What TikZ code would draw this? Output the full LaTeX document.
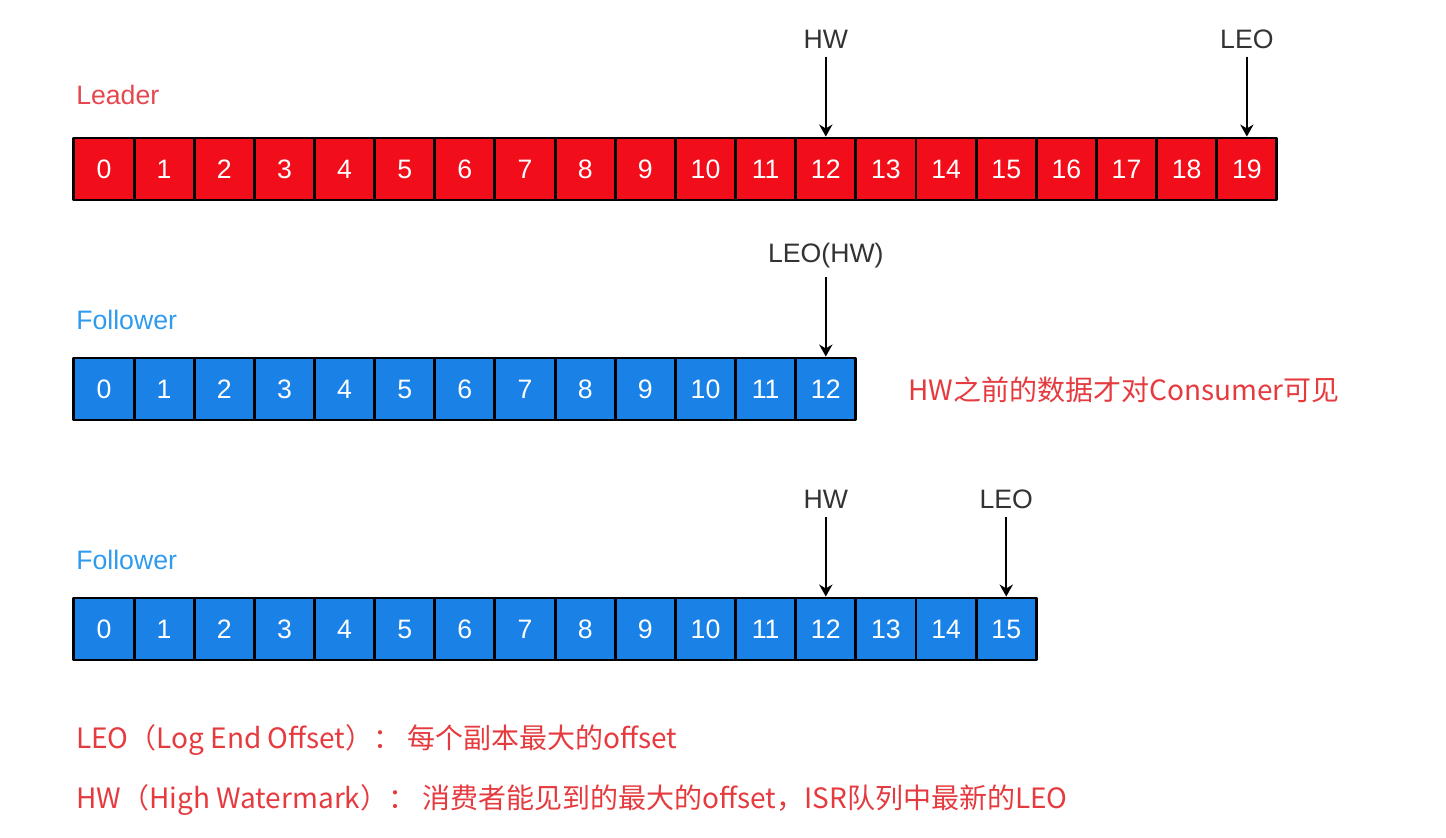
\documentclass[tikz,border=0pt]{standalone}
\usepackage{fontspec}
\setmainfont{Liberation Sans}
\newfontfamily\cjk{Noto Sans CJK SC}
\usetikzlibrary{arrows.meta,positioning}
\definecolor{ldred}{HTML}{F20D1B}
\definecolor{fblue}{HTML}{1A82E6}
\definecolor{ldtext}{HTML}{E5474E}
\definecolor{ftext}{HTML}{2F9BEF}
\definecolor{note}{HTML}{E53B3F}
\definecolor{tagc}{HTML}{333333}
\tikzset{
  every picture/.style={font=\fontsize{20}{24}\selectfont, line join=round, >=Stealth},
  cell/.style={draw=black, line width=2.2pt, minimum width=45.15pt, minimum height=46.5pt, inner sep=0pt, text=white},
  redcell/.style={cell, fill=ldred},
  bluecell/.style={cell, fill=fblue},
  tag/.style={text=tagc, inner sep=6pt},
  title/.style={anchor=west, inner sep=0pt},
  notetext/.style={anchor=west, inner sep=0pt, text=note, font=\cjk\fontsize{21}{25}\selectfont},
  pointer/.style={->, line width=1.2pt, >={Stealth[length=9pt,width=10pt]}},
}

\begin{document}
\begin{tikzpicture}[x=0.75pt,y=-0.75pt]
\useasboundingbox (0,0) rectangle (1446,838);
% leader
\node[title, text=ldtext] (leader) at (76,95) {Leader};
\foreach \i in {0,...,19}{\node[redcell] (ld\i) at ({104+60.15*\i},169) {\i};}
\node[tag, above=60pt of ld12] (ldhw) {HW};
\node[tag, above=60pt of ld19] (ldleo) {LEO};
\draw[pointer] (ldhw) -- (ld12);
\draw[pointer] (ldleo) -- (ld19);
% first follower
\node[title, text=ftext] (fola) at (76,320) {Follower};
\foreach \i in {0,...,12}{\node[bluecell] (fa\i) at ({104+60.15*\i},389) {\i};}
\node[tag, above=60pt of fa12] (faleo) {LEO(HW)};
\draw[pointer] (faleo) -- (fa12);
\node[notetext] (seen) at (908,390) {HW之前的数据才对Consumer可见};
% second follower
\node[title, text=ftext] (folb) at (76,560) {Follower};
\foreach \i in {0,...,15}{\node[bluecell] (fb\i) at ({104+60.15*\i},629) {\i};}
\node[tag, above=60pt of fb12] (fbhw) {HW};
\node[tag, above=60pt of fb15] (fbleo) {LEO};
\draw[pointer] (fbhw) -- (fb12);
\draw[pointer] (fbleo) -- (fb15);
% notes
\node[notetext] (leonote) at (76,740) {LEO（Log End Offset）： 每个副本最大的offset};
\node[notetext] (hwnote) at (76,800) {HW（High Watermark）： 消费者能见到的最大的offset，ISR队列中最新的LEO};
\end{tikzpicture}
\end{document}
